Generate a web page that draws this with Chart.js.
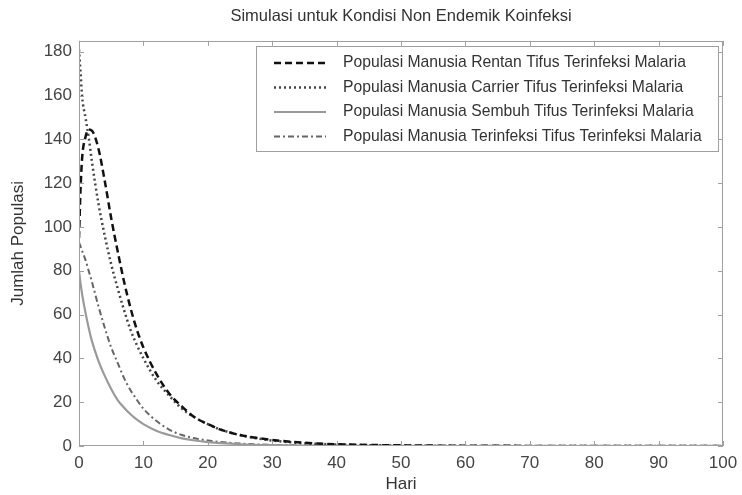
<!DOCTYPE html>
<html><head><meta charset="utf-8">
<script src="https://cdn.jsdelivr.net/npm/chart.js@4"></script>
<style>html,body{margin:0;padding:0;background:#fff}canvas{display:block}</style>
</head><body>
<canvas id="c" width="742" height="495"></canvas>
<script>
const hari = [0,0.25,0.5,1,1.5,2,3,4,5,6,7,8,9,10,12,14,16,18,20,22,25,30,35,40,50,60,70,80,90,100];
const rentan = [95,118,132,141,144.5,144,136,121,104,89,75,63,53,45,33,24,18,13,10,7.5,5,2.8,1.5,0.8,0.3,0.1,0.05,0,0,0];
const carrier = [181,170,159,150,141,130,111,96,83,72,62,53,46,40,30,23,17,13,10,7.5,5,2.5,1.3,0.7,0.2,0.05,0,0,0,0];
const sembuh = [80,74,69,61,54,48,39,32,26,21,17.5,14.5,12,10,7,5,3.5,2.5,1.8,1.3,0.8,0.4,0.2,0.1,0.03,0,0,0,0,0];
const terinfeksi = [93,91,89,85,80,75,64,54,45,38,31,25.5,21,17,11.5,7.5,5,3.5,2.5,1.8,1.1,0.5,0.25,0.1,0.03,0,0,0,0,0];
const yTicks = [0,20,40,60,80,100,120,140,160,180];
const labels = [
  'Populasi Manusia Rentan Tifus Terinfeksi Malaria',
  'Populasi Manusia Carrier Tifus Terinfeksi Malaria',
  'Populasi Manusia Sembuh Tifus Terinfeksi Malaria',
  'Populasi Manusia Terinfeksi Tifus Terinfeksi Malaria'
];
const FONT = '"Liberation Sans", Arial, sans-serif';
const pts = arr => hari.map((h,i)=>({x:h,y:arr[i]}));

const boxPlugin = {
  id:'boxLegend',
  afterDatasetsDraw(chart){
    const {ctx, chartArea:a, scales:{x,y}} = chart;
    ctx.save();
    ctx.strokeStyle='#a0a0a0'; ctx.lineWidth=1;
    ctx.strokeRect(Math.round(a.left)+0.5, Math.round(a.top)+0.5, Math.round(a.right-a.left)-1, Math.round(a.bottom-a.top)-1);
    const L=5;
    ctx.beginPath();
    x.ticks.forEach(t=>{const p=Math.round(x.getPixelForValue(t.value))+0.5;
      ctx.moveTo(p,a.bottom); ctx.lineTo(p,a.bottom-L); ctx.moveTo(p,a.top); ctx.lineTo(p,a.top+L);});
    y.ticks.forEach(t=>{const p=Math.round(y.getPixelForValue(t.value))+0.5;
      ctx.moveTo(a.left,p); ctx.lineTo(a.left+L,p); ctx.moveTo(a.right,p); ctx.lineTo(a.right-L,p);});
    ctx.stroke();
    // legend
    const bx=256, by=46, bw=462, bh=105;
    ctx.fillStyle='#fff'; ctx.fillRect(bx,by,bw,bh);
    ctx.strokeStyle='#a0a0a0'; ctx.strokeRect(bx+0.5,by+0.5,bw,bh);
    chart.data.datasets.forEach((ds,i)=>{
      const cy = 63 + i*24.5;
      ctx.beginPath();
      ctx.setLineDash(ds.borderDash||[]);
      ctx.strokeStyle=ds.borderColor; ctx.lineWidth=ds.borderWidth;
      ctx.moveTo(274,cy); ctx.lineTo(326,cy); ctx.stroke();
      ctx.setLineDash([]);
      ctx.fillStyle='#333'; ctx.font='15.7px '+FONT; ctx.textBaseline='middle'; ctx.textAlign='left';
      ctx.fillText(ds.label,343,cy);
    });
    ctx.restore();
  }
};

new Chart(document.getElementById('c'), {
  type:'line',
  data:{datasets:[
    {label:labels[0], data:pts(rentan), borderColor:'#111', borderWidth:2.5, borderDash:[7,4]},
    {label:labels[1], data:pts(carrier), borderColor:'#444', borderWidth:2.5, borderDash:[2,3]},
    {label:labels[2], data:pts(sembuh), borderColor:'#9a9a9a', borderWidth:2.2, borderDash:[]},
    {label:labels[3], data:pts(terinfeksi), borderColor:'#666', borderWidth:2, borderDash:[6,3,2,3]}
  ]},
  options:{
    responsive:false, animation:false,
    layout:{padding:{left:0,right:19,top:0,bottom:0}},
    elements:{point:{radius:0}, line:{cubicInterpolationMode:'monotone', fill:false}},
    plugins:{
      legend:{display:false}, tooltip:{enabled:false},
      title:{display:true, fullSize:false, text:'Simulasi untuk Kondisi Non Endemik Koinfeksi', color:'#333',
        font:{family:FONT, size:16.5, weight:'normal', lineHeight:1.2}, padding:{top:7,bottom:14}}
    },
    scales:{
      x:{type:'linear', min:0, max:100, grid:{display:false, drawTicks:false}, border:{display:false},
        ticks:{stepSize:10, color:'#444', font:{family:FONT,size:17}, padding:7, maxRotation:0},
        title:{display:true, text:'Hari', color:'#333', font:{family:FONT,size:17}, padding:{top:0,bottom:0}},
        afterFit(s){ s.height=49; s.paddingLeft=0; s.paddingRight=0; }},
      y:{type:'linear', min:0, max:185, grid:{display:false, drawTicks:false}, border:{display:false},
        ticks:{color:'#444', font:{family:FONT,size:17}, padding:7},
        afterBuildTicks(s){ s.ticks = yTicks.map(v=>({value:v})); },
        title:{display:true, text:'Jumlah Populasi', color:'#333', font:{family:FONT,size:17}, padding:{top:8,bottom:0}},
        afterFit(s){ s.width=79; s.paddingTop=0; s.paddingBottom=0; }}
    }
  },
  plugins:[boxPlugin]
});
</script>
</body></html>
